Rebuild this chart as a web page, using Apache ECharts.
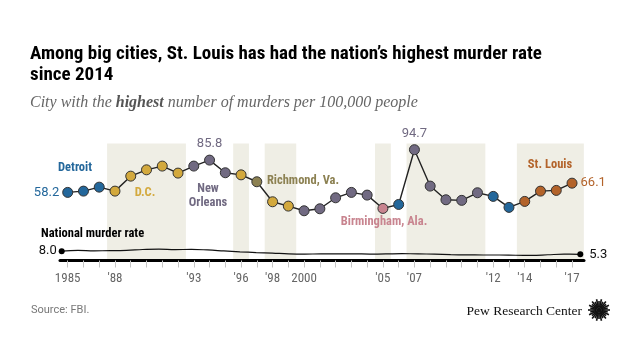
<!DOCTYPE html>
<html>
<head>
<meta charset="utf-8">
<script src="https://cdn.jsdelivr.net/npm/echarts@6/dist/echarts.min.js"></script>
<style>
html,body{margin:0;padding:0;background:#fff;}
#chart{width:640px;height:360px;}
</style>
</head>
<body>
<div id="chart"></div>
<script>
// ---- DATA ----
const years = [1985,1986,1987,1988,1989,1990,1991,1992,1993,1994,1995,1996,1997,1998,1999,2000,2001,2002,2003,2004,2005,2006,2007,2008,2009,2010,2011,2012,2013,2014,2015,2016,2017];
const cityRate = [58.2,59.3,62.7,59.3,72.1,77.5,80.7,74.7,80.7,85.8,75.0,73.2,67.3,50.2,46.5,42.5,44.2,53.6,58.2,55.9,44.5,47.9,94.7,63.6,51.9,51.4,57.9,54.8,45.4,50.5,59.3,59.9,66.1];
const cities = ['Detroit','Detroit','Detroit','D.C.','D.C.','D.C.','D.C.','D.C.','New Orleans','New Orleans','New Orleans','D.C.','Richmond, Va.','D.C.','D.C.','New Orleans','New Orleans','New Orleans','New Orleans','New Orleans','Birmingham, Ala.','Detroit','New Orleans','New Orleans','New Orleans','New Orleans','New Orleans','Detroit','Detroit','St. Louis','St. Louis','St. Louis','St. Louis'];
const nationalRate = [8.0,8.6,8.3,8.4,8.7,9.4,9.8,9.3,9.5,9.0,8.2,7.4,6.8,6.3,5.7,5.5,5.6,5.6,5.7,5.5,5.6,5.8,5.7,5.4,5.0,4.8,4.7,4.7,4.5,4.4,4.9,5.4,5.3];
const labelYears = [1985,1988,1993,1996,1998,2000,2005,2007,2012,2014,2017];
const tickLabels = ['1985',"'88","'93","'96","'98",'2000',"'05","'07","'12","'14","'17"];
const bandStarts = [1987.5,1995.5,1997.5,2004.5,2006.5,2013.5];
const bandEnds   = [1992.5,1996.5,1999.5,2005.5,2011.5,2017.75];
const labeledYears = [1985,1994,2007,2017];

// ---- STYLE ----
const cityColors = {
  'Detroit':'#23679b',
  'D.C.':'#d3a93d',
  'New Orleans':'#716a82',
  'Richmond, Va.':'#8c8152',
  'Birmingham, Ala.':'#c8848f',
  'St. Louis':'#b3632a'
};
const labelPos = {1985:'left',1994:'top',2007:'top',2017:'right'};
const sans = "Roboto, 'Liberation Sans', sans-serif";
const narrow = "'Liberation Sans Narrow', 'Roboto Condensed', Roboto, sans-serif";

const chart = echarts.init(document.getElementById('chart'), null, {renderer:'canvas'});

const cityData = years.map((y,i)=>{
  const c = cityColors[cities[i]];
  const item = {value:[y, cityRate[i]], itemStyle:{color:c}};
  if (labeledYears.includes(y)) {
    item.label = {show:true, position:labelPos[y], distance:labelPos[y]==='top'?4:3,
      formatter:cityRate[i].toFixed(1), color:c, fontSize:13, fontFamily:sans};
  }
  return item;
});
const natData = years.map((y,i)=>{
  const item = {value:[y, nationalRate[i]]};
  const last = i===years.length-1;
  if (i===0 || last) {
    item.symbolSize = 6;
    item.label = {show:true, position:i===0?'left':'right', distance:i===0?2:6,
      formatter:nationalRate[i].toFixed(1), color:'#111', fontSize:13, fontFamily:sans};
  } else {
    item.symbolSize = 0;
  }
  return item;
});

function ann(text, x, y, color, extra) {
  return {type:'text', x:x, y:y, z:100, style:Object.assign({text:text, fill:color,
    font:"bold 12.5px " + narrow, textAlign:'center', textVerticalAlign:'middle'}, extra||{})};
}

// Logo rays
const logoRays = [];
const cx = 599, cy = 310;
for (let k=0;k<28;k++){
  const a = k/28*Math.PI*2;
  const r2 = (k%2===0)?11:9;
  logoRays.push({type:'line', shape:{x1:cx+Math.cos(a)*2.5, y1:cy+Math.sin(a)*2.5, x2:cx+Math.cos(a)*r2, y2:cy+Math.sin(a)*r2},
    style:{stroke:'#111', lineWidth:1.6}});
}
logoRays.push({type:'circle', shape:{cx:cx, cy:cy, r:2.5}, style:{fill:'#111'}});

const option = {
  animation:false,
  backgroundColor:'#fff',
  title:{
    text:'Among big cities, St. Louis has had the nation\u2019s highest murder rate\nsince 2014',
    left:30, top:44, padding:0,
    textStyle:{fontFamily:narrow, fontWeight:'bold', fontSize:19, color:'#000', lineHeight:21}
  },
  grid:{left:60, right:56, top:143.5, bottom:99.5, containLabel:false},
  xAxis:[{
    type:'value', min:1984.511, max:2017.76, z:10,
    splitLine:{show:false},
    axisLine:{show:true, onZero:false, lineStyle:{color:'#000', width:3}},
    axisTick:{show:true, customValues:years, length:7, lineStyle:{color:'#c4c4c4', width:1}},
    axisLabel:{show:true, customValues:labelYears, margin:12, color:'#666', fontSize:13, fontFamily:narrow,
      formatter:(v)=>tickLabels[labelYears.indexOf(Math.round(v))] || ''}
  },{
    type:'value', min:1984.895, max:2017.229, show:false
  }],
  yAxis:{type:'value', min:0, max:100, show:false, splitLine:{show:false}},
  graphic:[
    {type:'text', x:30, y:103, z:100, style:{
      text:'{i|City with the }{b|highest}{i| number of murders per 100,000 people}',
      textVerticalAlign:'middle',
      rich:{
        i:{fontFamily:"'Liberation Serif', serif", fontStyle:'italic', fontSize:16, fill:'#666', color:'#666'},
        b:{fontFamily:"'Liberation Serif', serif", fontStyle:'italic', fontWeight:'bold', fontSize:16, fill:'#555', color:'#555'}
      }}},
    ann('Detroit', 75, 168, cityColors['Detroit']),
    ann('D.C.', 145, 193, cityColors['D.C.']),
    ann('New\nOrleans', 208, 196, cityColors['New Orleans'], {lineHeight:14}),
    ann('Richmond, Va.', 303, 181, cityColors['Richmond, Va.']),
    ann('Birmingham, Ala.', 384, 222, cityColors['Birmingham, Ala.']),
    ann('St. Louis', 550, 165, cityColors['St. Louis']),
    ann('National murder rate', 41, 234, '#000', {textAlign:'left'}),
    {type:'text', x:31, y:310, z:100, style:{text:'Source: FBI.', fill:'#777', font:"11px " + sans, textVerticalAlign:'middle'}},
    {type:'text', x:582, y:311, z:100, style:{text:'Pew Research Center', fill:'#111', font:"13.5px 'Liberation Serif', serif", textAlign:'right', textVerticalAlign:'middle'}},
    {type:'group', z:100, children:logoRays}
  ],
  series:[
    {
      name:'Highest city', type:'line', xAxisIndex:0, yAxisIndex:0, z:5,
      data:cityData, symbol:'circle', symbolSize:10,
      lineStyle:{color:'#222', width:1.4},
      itemStyle:{borderColor:'#333', borderWidth:1},
      markArea:{silent:true, itemStyle:{color:'#efeee5'}, z:1,
        data:bandStarts.map((s,i)=>[{xAxis:s},{xAxis:bandEnds[i]}])}
    },
    {
      name:'National', type:'line', xAxisIndex:1, yAxisIndex:0, z:4,
      data:natData, smooth:0.4, symbol:'circle', showSymbol:true,
      lineStyle:{color:'#111', width:1.2},
      itemStyle:{color:'#000'}
    }
  ]
};
chart.setOption(option);
</script>
</body>
</html>
